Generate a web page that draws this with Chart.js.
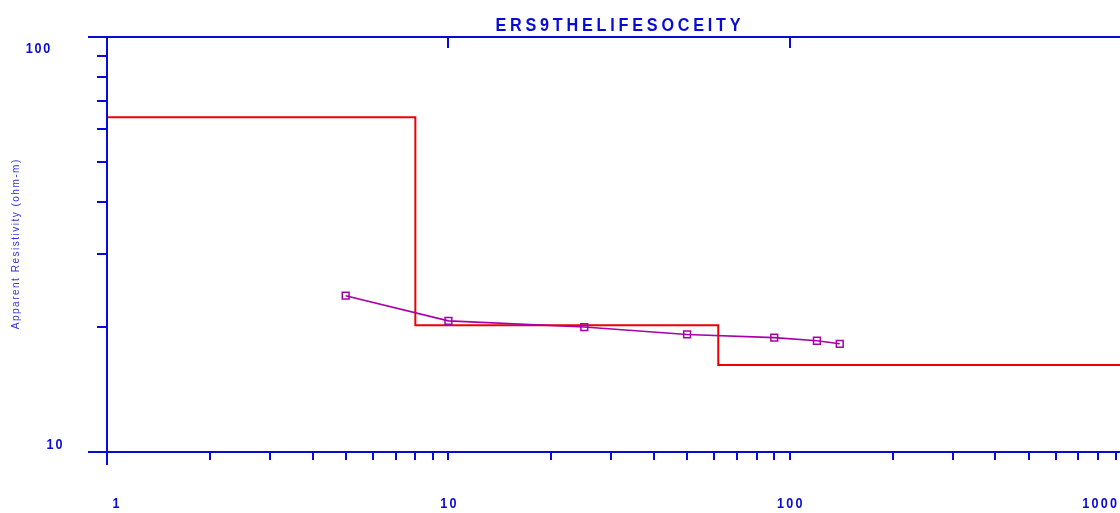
<!DOCTYPE html>
<html><head><meta charset="utf-8">
<script src="https://cdn.jsdelivr.net/npm/chart.js@4.4.0/dist/chart.umd.min.js"></script>
<style>html,body{margin:0;padding:0;background:#fff;overflow:hidden}#wrap{width:1120px;height:513px;position:relative;overflow:hidden}canvas{display:block}</style>
</head><body><div id="wrap"><canvas id="c" width="1127" height="513"></canvas></div>
<script>
// ---- data ----
const titleText = 'ERS9THELIFESOCEITY';
const yAxisTitle = 'Apparent Resistivity (ohm-m)';
const spacings = [5, 10, 25, 50, 90, 120, 140];           // AB/2
const apparentRes = [23.8, 20.7, 20.0, 19.2, 18.86, 18.54, 18.23];
const layerDepths = [8.0, 61.7];
const layerRes = [64.1, 20.2, 16.2];
const xTickValues = [1,2,3,4,5,6,7,8,9,10,20,30,40,50,60,70,80,90,100,200,300,400,500,600,700,800,900];
const xTopTickValues = [10, 100];
const xLabelValues = [1, 10, 100, 1000];
const yTickValues = [10,20,30,40,50,60,70,80,90,100];
const yLabelValues = [100, 10];
const xMin = 1, xMax = 931, yMin = 10, yMax = 100;

// ---- build datasets ----
const modelPts = [{x: xMin, y: layerRes[0]}];
layerDepths.forEach((d, i) => {
  modelPts.push({x: d, y: layerRes[i]});
  modelPts.push({x: d, y: layerRes[i + 1]});
});
modelPts.push({x: xMax, y: layerRes[layerRes.length - 1]});
const appPts = spacings.map((s, i) => ({x: s, y: apparentRes[i]}));

const BLUE = '#0a0ad8';
const RED = '#ee0000';
const PURPLE = '#a800a8';
const VIEW_W = 1120;

function spacedText(ctx, text, x, y, font, spacing, sx, align) {
  ctx.save();
  ctx.font = font;
  ctx.translate(x, y);
  ctx.scale(sx, 1);
  if ('letterSpacing' in ctx) {
    ctx.letterSpacing = spacing + 'px';
    const w = ctx.measureText(text).width - spacing;
    let ox = align === 'center' ? -w / 2 : align === 'right' ? -w : 0;
    ctx.textAlign = 'left';
    ctx.fillText(text, ox, 0);
  } else {
    let w = 0; for (const ch of text) w += ctx.measureText(ch).width + spacing; w -= spacing;
    let ox = align === 'center' ? -w / 2 : align === 'right' ? -w : 0;
    ctx.textAlign = 'left';
    for (const ch of text) { ctx.fillText(ch, ox, 0); ox += ctx.measureText(ch).width + spacing; }
  }
  ctx.restore();
}

const decorPlugin = {
  id: 'decor',
  afterDraw(chart) {
    const {ctx, scales: {x, y}} = chart;
    ctx.save();
    ctx.strokeStyle = BLUE; ctx.lineWidth = 2; ctx.lineCap = 'butt';
    const line = (x1, y1, x2, y2) => { ctx.beginPath(); ctx.moveTo(x1, y1); ctx.lineTo(x2, y2); ctx.stroke(); };
    const top = Math.round(y.getPixelForValue(yMax));
    const bot = Math.round(y.getPixelForValue(yMin));
    const left = Math.round(x.getPixelForValue(xMin));
    line(88, top, chart.width, top);
    line(88, bot, chart.width, bot);
    line(left, top, left, bot + 13);
    xTopTickValues.forEach(v => { const px = Math.round(x.getPixelForValue(v)); line(px, top, px, top + 11); });

    ctx.fillStyle = BLUE; ctx.textBaseline = 'alphabetic';
    // title
    spacedText(ctx, titleText, 618, 31, 'bold 18px "Liberation Sans", Arial, sans-serif', 4.2, 0.9, 'center');
    // y labels
    const yLab = {100: {dx: -69, dy: 16}, 10: {dx: -52.5, dy: -3}};
    yLabelValues.forEach(v => {
      const py = y.getPixelForValue(v);
      spacedText(ctx, String(v), left + yLab[v].dx, py + yLab[v].dy, 'bold 14px "Liberation Sans", Arial, sans-serif', 2, 0.9, 'center');
    });
    // x labels
    xLabelValues.forEach(v => {
      let px = x.getPixelForValue(v) + (v === 1 ? 9 : 0);
      const f = 'bold 14px "Liberation Sans", Arial, sans-serif';
      ctx.save(); ctx.font = f; ctx.letterSpacing = '2.5px';
      const hw = (ctx.measureText(String(v)).width - 2.5) * 0.9 / 2; ctx.restore();
      if (px + hw > VIEW_W - 3) px = VIEW_W - 3 - hw;
      spacedText(ctx, String(v), px, 507.5, f, 2.5, 0.9, 'center');
    });
    // y title
    ctx.fillStyle = '#3232d2';
    ctx.save();
    ctx.translate(19, (top + bot) / 2);
    ctx.rotate(-Math.PI / 2);
    spacedText(ctx, yAxisTitle, 0, 0, '10px "Liberation Sans", Arial, sans-serif', 1.5, 1, 'center');
    ctx.restore();
    ctx.restore();
  }
};

new Chart(document.getElementById('c'), {
  type: 'scatter',
  data: {
    datasets: [
      {label: 'Model', data: modelPts, showLine: true, borderColor: RED, borderWidth: 2,
       pointRadius: 0, tension: 0, order: 2},
      {label: 'Apparent resistivity', data: appPts, showLine: true, borderColor: PURPLE, borderWidth: 1.6,
       pointStyle: 'rect', pointRadius: 4.8, pointBorderWidth: 1.5, pointBorderColor: PURPLE,
       pointBackgroundColor: 'rgba(255,255,255,0)', tension: 0, order: 1}
    ]
  },
  options: {
    responsive: false, animation: false, devicePixelRatio: 1,
    layout: {padding: {left: 97, right: 0, top: 37, bottom: 53}},
    plugins: {legend: {display: false}, title: {display: false}, tooltip: {enabled: false}},
    scales: {
      x: {type: 'logarithmic', min: xMin, max: xMax, position: 'bottom',
          afterBuildTicks: s => { s.ticks = xTickValues.map(v => ({value: v})); },
          ticks: {display: false},
          grid: {drawOnChartArea: false, drawTicks: true, tickLength: 8, color: BLUE, lineWidth: 2},
          border: {display: true, color: BLUE, width: 2}},
      y: {type: 'logarithmic', min: yMin, max: yMax, position: 'left',
          afterBuildTicks: s => { s.ticks = yTickValues.map(v => ({value: v})); },
          ticks: {display: false},
          grid: {drawOnChartArea: false, drawTicks: true, tickLength: 10, color: BLUE, lineWidth: 2},
          border: {display: true, color: BLUE, width: 2}}
    }
  },
  plugins: [decorPlugin]
});
</script></body></html>
